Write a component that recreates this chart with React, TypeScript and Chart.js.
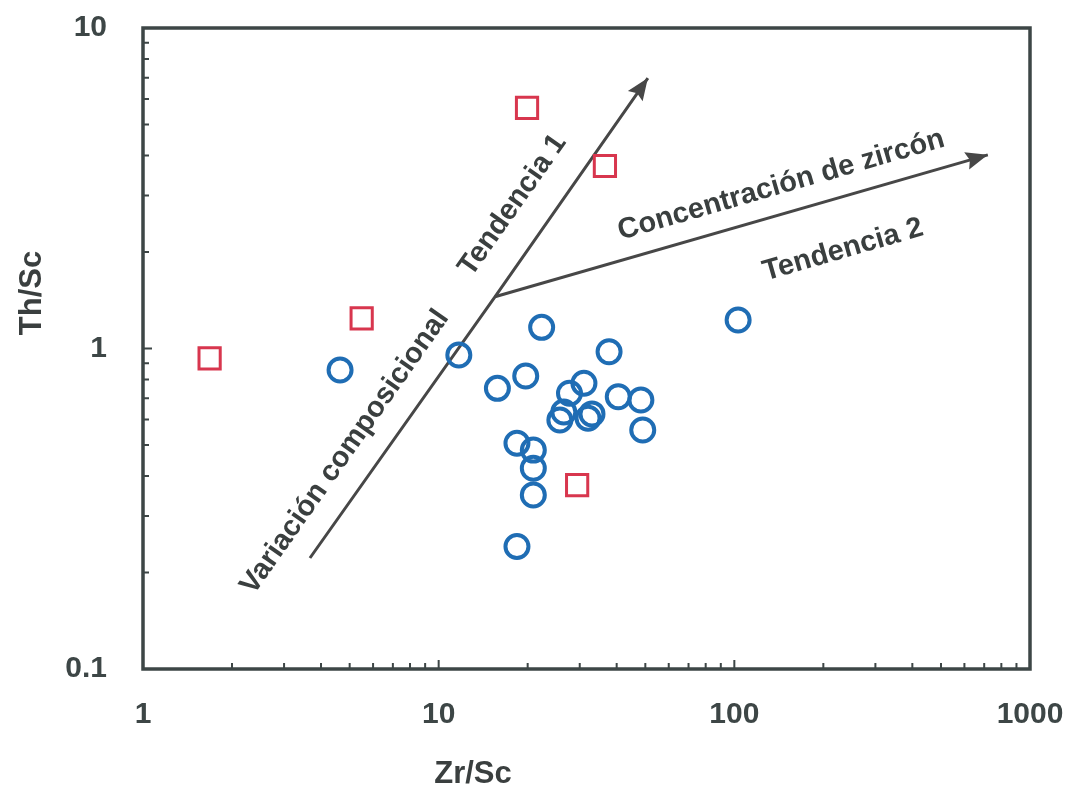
import React, { useEffect, useRef } from 'react';
import { Chart, registerables } from 'chart.js';

Chart.register(...registerables);

// ---- data ----
const circleZrSc = [4.64, 11.7, 22.3, 37.7, 103, 19.7, 15.8, 31.0, 27.7, 40.5, 48.3, 25.7, 26.5, 32.0, 33.0, 49.0, 18.4, 20.9, 20.9, 20.9, 18.4];
const circleThSc = [0.857, 0.954, 1.164, 0.977, 1.227, 0.821, 0.751, 0.779, 0.725, 0.707, 0.691, 0.598, 0.634, 0.606, 0.625, 0.557, 0.506, 0.482, 0.423, 0.349, 0.241];

const squareZrSc = [1.68, 5.49, 19.9, 36.5, 29.4];
const squareThSc = [0.932, 1.242, 5.63, 3.71, 0.375];

const trend1ZrSc = [3.67, 15.5, 51.0];
const trend1ThSc = [0.222, 1.45, 6.98];
const trend2ZrSc = [15.5, 720];
const trend2ThSc = [1.45, 4.02];

const xTickValues = [1, 10, 100, 1000];
const yTickValues = [0.1, 1, 10];

const annotationTexts = ['Variación composicional', 'Tendencia 1', 'Concentración de zircón', 'Tendencia 2'];
const annotationZrSc = [4.82, 17.8, 144, 233];
const annotationThSc = [0.475, 2.8, 3.23, 2.03];
const annotationTrend = [1, 1, 2, 2];

const xTitle = 'Zr/Sc';
const yTitle = 'Th/Sc';

// ---- styles ----
const FONT = '"Liberation Sans", Arial, sans-serif';
const AXIS_COLOR = '#3d4646';
const TEXT_COLOR = '#3a3f3f';
const ARROW_COLOR = '#474747';
const BLUE = '#1f6db4';
const RED = '#d8364e';

const toPts = (xs: number[], ys: number[]) => xs.map((x, i) => ({ x, y: ys[i] }));

function arrowHead(ctx: CanvasRenderingContext2D, x1: number, y1: number, x2: number, y2: number, len: number, half: number) {
  const a = Math.atan2(y2 - y1, x2 - x1);
  ctx.save();
  ctx.translate(x2, y2);
  ctx.rotate(a);
  ctx.beginPath();
  ctx.moveTo(0, 0);
  ctx.lineTo(-len, -half);
  ctx.lineTo(-len * 0.85, 0);
  ctx.lineTo(-len, half);
  ctx.closePath();
  ctx.fillStyle = ARROW_COLOR;
  ctx.fill();
  ctx.restore();
}

const overlayPlugin = {
  id: 'overlay',
  afterDatasetsDraw(chart: any) {
    const ctx: CanvasRenderingContext2D = chart.ctx;
    const xs = chart.scales.x;
    const ys = chart.scales.y;
    const px = (v: number) => xs.getPixelForValue(v);
    const py = (v: number) => ys.getPixelForValue(v);

    // arrow heads
    const n1 = trend1ZrSc.length - 1;
    arrowHead(ctx, px(trend1ZrSc[n1 - 1]), py(trend1ThSc[n1 - 1]), px(trend1ZrSc[n1]), py(trend1ThSc[n1]), 22, 9);
    const n2 = trend2ZrSc.length - 1;
    arrowHead(ctx, px(trend2ZrSc[n2 - 1]), py(trend2ThSc[n2 - 1]), px(trend2ZrSc[n2]), py(trend2ThSc[n2]), 22, 9);

    // annotation labels, rotated along their trend line
    const ang1 = Math.atan2(py(trend1ThSc[n1]) - py(trend1ThSc[0]), px(trend1ZrSc[n1]) - px(trend1ZrSc[0]));
    const ang2 = Math.atan2(py(trend2ThSc[n2]) - py(trend2ThSc[0]), px(trend2ZrSc[n2]) - px(trend2ZrSc[0]));
    ctx.save();
    ctx.fillStyle = TEXT_COLOR;
    ctx.font = `bold 29px ${FONT}`;
    ctx.textAlign = 'center';
    ctx.textBaseline = 'middle';
    annotationTexts.forEach((t, i) => {
      ctx.save();
      ctx.translate(px(annotationZrSc[i]), py(annotationThSc[i]));
      ctx.rotate(annotationTrend[i] === 1 ? ang1 : ang2);
      ctx.fillText(t, 0, 0);
      ctx.restore();
    });
    ctx.restore();
  },
  afterDraw(chart: any) {
    const ctx: CanvasRenderingContext2D = chart.ctx;
    const { left, right, top, bottom } = chart.chartArea;
    const xs = chart.scales.x;
    const ys = chart.scales.y;

    ctx.save();
    // frame
    ctx.strokeStyle = AXIS_COLOR;
    ctx.lineWidth = 3.5;
    ctx.strokeRect(left, top, right - left, bottom - top);

    // inward minor/major ticks
    ctx.lineWidth = 2;
    ctx.beginPath();
    [1, 10, 100].forEach((d) => {
      for (let m = 2; m <= 10; m++) {
        const v = d * m;
        if (v >= 1000) continue;
        const x = xs.getPixelForValue(v);
        const len = m === 10 ? 9 : 6;
        ctx.moveTo(x, bottom);
        ctx.lineTo(x, bottom - len);
      }
    });
    [0.1, 1].forEach((d) => {
      for (let m = 2; m <= 10; m++) {
        const v = d * m;
        if (v >= 10) continue;
        const y = ys.getPixelForValue(v);
        const len = m === 10 ? 9 : 6;
        ctx.moveTo(left, y);
        ctx.lineTo(left + len, y);
      }
    });
    ctx.stroke();

    // axis titles
    ctx.fillStyle = TEXT_COLOR;
    ctx.font = `bold 31px ${FONT}`;
    ctx.textAlign = 'center';
    ctx.textBaseline = 'middle';
    ctx.fillText(xTitle, 473, 774);
    ctx.save();
    ctx.translate(32, 293);
    ctx.rotate(-Math.PI / 2);
    ctx.fillText(yTitle, 0, 0);
    ctx.restore();
    ctx.restore();
  },
};

export default function App() {
  const ref = useRef<HTMLCanvasElement | null>(null);

  useEffect(() => {
    if (!ref.current) return;
    const chart = new Chart(ref.current, {
      type: 'scatter',
      data: {
        datasets: [
          {
            label: 'circles',
            data: toPts(circleZrSc, circleThSc),
            pointStyle: 'circle',
            pointRadius: 11.5,
            pointBorderWidth: 4,
            pointBorderColor: BLUE,
            pointBackgroundColor: 'rgba(0,0,0,0)',
            showLine: false,
          },
          {
            label: 'squares',
            data: toPts(squareZrSc, squareThSc),
            pointStyle: 'rect',
            pointRadius: 15,
            pointBorderWidth: 3,
            pointBorderColor: RED,
            pointBackgroundColor: 'rgba(0,0,0,0)',
            showLine: false,
          },
          {
            label: 'trend1',
            data: toPts(trend1ZrSc, trend1ThSc),
            showLine: true,
            borderColor: ARROW_COLOR,
            borderWidth: 3,
            pointRadius: 0,
            tension: 0,
          },
          {
            label: 'trend2',
            data: toPts(trend2ZrSc, trend2ThSc),
            showLine: true,
            borderColor: ARROW_COLOR,
            borderWidth: 3,
            pointRadius: 0,
            tension: 0,
          },
        ],
      },
      options: {
        responsive: false,
        animation: false,
        devicePixelRatio: 1,
        layout: { padding: { top: 28, right: 52, left: 0, bottom: 0 } },
        plugins: { legend: { display: false }, tooltip: { enabled: false } },
        scales: {
          x: {
            type: 'logarithmic',
            min: 1,
            max: 1000,
            afterBuildTicks: (s: any) => {
              s.ticks = xTickValues.map((v) => ({ value: v }));
            },
            afterFit: (s: any) => {
              s.height = 128;
              s.paddingLeft = 0;
              s.paddingRight = 0;
              s.paddingTop = 0;
              s.paddingBottom = 0;
            },
            grid: { display: false, drawTicks: false },
            border: { display: false },
            ticks: {
              autoSkip: false,
              maxRotation: 0,
              padding: 28,
              color: AXIS_COLOR,
              font: { family: FONT, size: 30, weight: 'bold' },
              callback: (v: any) => String(v),
            },
          },
          y: {
            type: 'logarithmic',
            min: 0.1,
            max: 10,
            afterBuildTicks: (s: any) => {
              s.ticks = yTickValues.map((v) => ({ value: v }));
            },
            afterFit: (s: any) => {
              s.width = 143;
              s.paddingLeft = 0;
              s.paddingRight = 0;
              s.paddingTop = 0;
              s.paddingBottom = 0;
            },
            grid: { display: false, drawTicks: false },
            border: { display: false },
            ticks: {
              autoSkip: false,
              padding: 36,
              color: AXIS_COLOR,
              font: { family: FONT, size: 30, weight: 'bold' },
              callback: (v: any) => String(v),
            },
          },
        },
      },
      plugins: [overlayPlugin],
    } as any);
    return () => chart.destroy();
  }, []);

  return (
    <div style={{ position: 'fixed', left: 0, top: 0, width: 1082, height: 797, background: '#ffffff' }}>
      <canvas ref={ref} width={1082} height={797} style={{ display: 'block' }} />
    </div>
  );
}
